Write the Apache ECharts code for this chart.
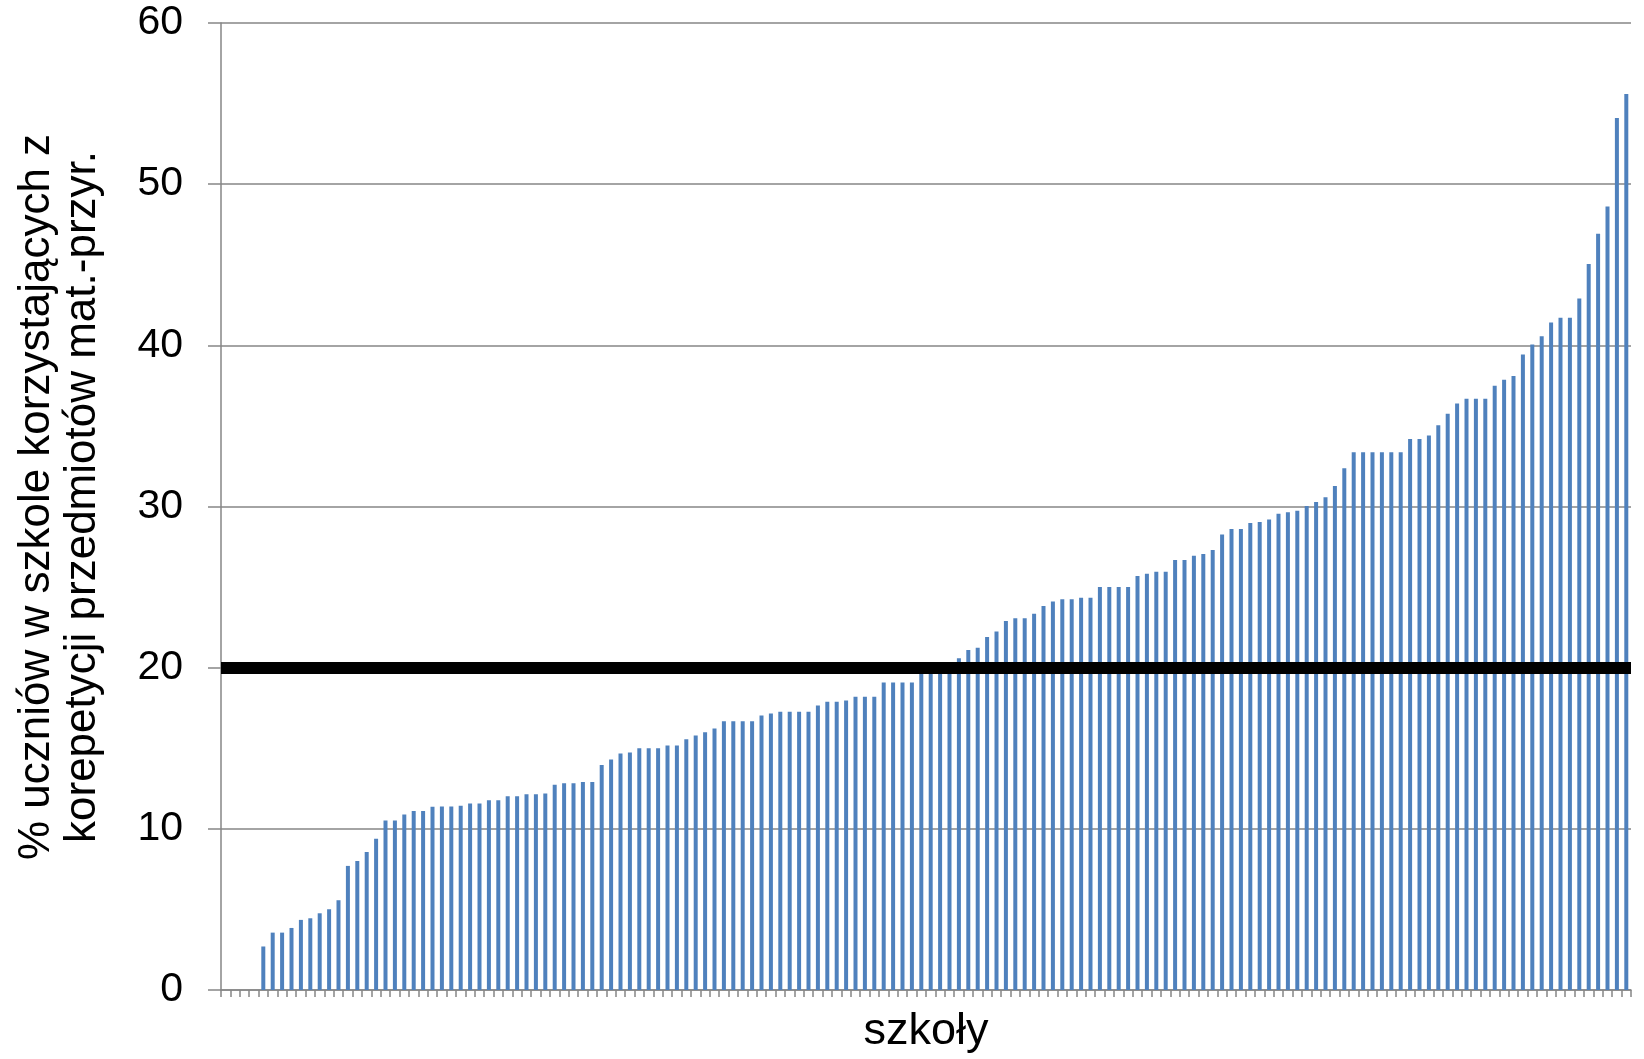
<!DOCTYPE html>
<html>
<head>
<meta charset="utf-8">
<script src="https://cdn.jsdelivr.net/npm/echarts@6/dist/echarts.min.js"></script>
<style>
html,body{margin:0;padding:0;background:#fff;}
#chart{width:1644px;height:1059px;}
</style>
</head>
<body>
<div id="chart"></div>
<script>
// number of categories (schools); first four have no value
const schoolCount = 150;
const categories = Array.from({length: schoolCount}, (_, i) => String(i + 1));

// % of pupils using private tutoring in math/science subjects, sorted ascending
const values = [
  null, null, null, null,
  2.7, 3.56, 3.56, 3.85, 4.35, 4.45, 4.76, 5.01, 5.57, 7.7,
  8.01, 8.57, 9.38, 10.52, 10.52, 10.89, 11.1, 11.1, 11.37, 11.38,
  11.38, 11.44, 11.57, 11.57, 11.77, 11.77, 12.02, 12.02, 12.14, 12.14,
  12.2, 12.74, 12.83, 12.83, 12.91, 12.91, 13.96, 14.3, 14.67, 14.73,
  15.0, 15.0, 15.0, 15.17, 15.17, 15.56, 15.79, 16.0, 16.22, 16.68,
  16.68, 16.68, 16.68, 17.03, 17.15, 17.26, 17.26, 17.26, 17.26, 17.65,
  17.88, 17.88, 17.96, 18.19, 18.19, 18.19, 19.08, 19.08, 19.08, 19.08,
  19.6, 19.9, 20.1, 20.3, 20.59, 21.09, 21.23, 21.9, 22.25, 22.89,
  23.07, 23.07, 23.34, 23.82, 24.11, 24.25, 24.25, 24.34, 24.34, 25.0,
  25.0, 25.0, 25.0, 25.68, 25.83, 25.95, 25.95, 26.68, 26.68, 26.95,
  27.05, 27.3, 28.27, 28.6, 28.6, 28.98, 29.04, 29.2, 29.55, 29.64,
  29.74, 30.03, 30.28, 30.57, 31.27, 32.37, 33.37, 33.37, 33.37, 33.37,
  33.37, 33.37, 34.19, 34.19, 34.4, 35.04, 35.75, 36.39, 36.68, 36.68,
  36.68, 37.5, 37.86, 38.1, 39.43, 40.05, 40.57, 41.42, 41.71, 41.71,
  42.9, 45.04, 46.93, 48.62, 54.11, 55.6
];

// threshold reference line
const threshold = 20;

// axis settings
const yMin = 0, yMax = 60, yStep = 10;
const yTitle = '% uczniów w szkole korzystających z\nkorepetycji przedmiotów mat.-przyr.';
const xTitle = 'szkoły';

const chart = echarts.init(document.getElementById('chart'), null, {renderer: 'canvas'});
const font = '"Liberation Sans", Arial, Helvetica, sans-serif';
const gray = '#868686';

chart.setOption({
  animation: false,
  backgroundColor: '#ffffff',
  grid: {left: 221, right: 13, top: 23, bottom: 69, containLabel: false},
  xAxis: {
    type: 'category',
    data: categories,
    boundaryGap: true,
    name: xTitle,
    nameLocation: 'middle',
    nameGap: 19,
    nameTextStyle: {fontSize: 45, color: '#000', fontFamily: font},
    axisLine: {show: true, lineStyle: {color: gray, width: 1.5}},
    axisTick: {show: true, interval: 0, length: 7, lineStyle: {color: gray, width: 1.5}},
    axisLabel: {show: false},
    splitLine: {show: false}
  },
  yAxis: {
    type: 'value',
    min: yMin, max: yMax, interval: yStep,
    name: yTitle,
    nameLocation: 'middle',
    nameRotate: 90,
    nameGap: 115,
    nameTextStyle: {fontSize: 44, lineHeight: 46, color: '#000', fontFamily: font, align: 'center', padding: [0, 0, 0, 19]},
    axisLine: {show: true, lineStyle: {color: gray, width: 1.5}},
    axisTick: {show: true, length: 13, lineStyle: {color: gray, width: 1.5}},
    axisLabel: {fontSize: 41, color: '#000', fontFamily: font, margin: 38},
    splitLine: {show: true, lineStyle: {color: gray, width: 1.5}}
  },
  series: [{
    type: 'bar',
    data: values,
    barWidth: 4,
    itemStyle: {color: '#4f81bd'},
    markLine: {
      silent: true,
      symbol: ['none', 'none'],
      label: {show: false},
      lineStyle: {color: '#000', width: 12, type: 'solid'},
      data: [{yAxis: threshold}]
    }
  }]
});
</script>
</body>
</html>
